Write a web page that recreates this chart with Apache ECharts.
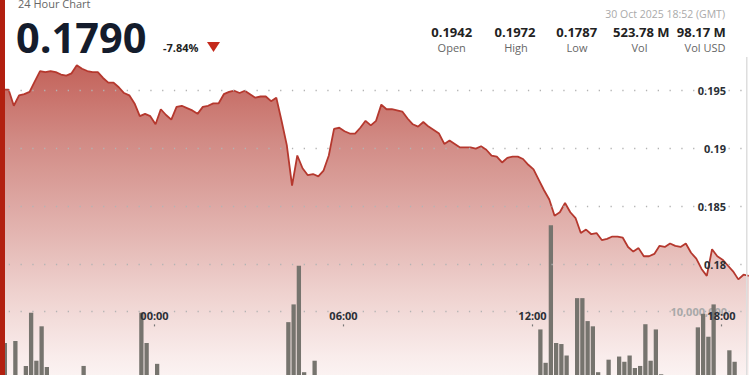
<!DOCTYPE html>
<html><head><meta charset="utf-8">
<script src="https://cdn.jsdelivr.net/npm/echarts@6/dist/echarts.min.js"></script>
<style>html,body{margin:0;padding:0;background:#fff}#c{width:750px;height:375px}</style>
</head><body><div id="c"></div>
<script>
// ---- data (10-minute steps from 29 Oct 18:52 to 30 Oct 18:52 GMT) ----
const priceValues = [
0.1942,0.1949,0.1951,0.1951,0.1937,0.1946,0.1947,0.1949,0.1958,0.1967,
0.1966,0.1967,0.1966,0.1964,0.1963,0.1965,0.1972,0.1969,0.1967,0.1966,
0.1966,0.1961,0.1957,0.1957,0.1953,0.1948,0.1946,0.1939,0.1928,0.1930,
0.1928,0.1921,0.1934,0.1929,0.1925,0.1936,0.1937,0.1935,0.1933,0.1930,
0.1936,0.1937,0.1939,0.1939,0.1947,0.1949,0.1950,0.1948,0.1950,0.1947,
0.1944,0.1945,0.1945,0.1941,0.1944,0.1924,0.1903,0.1868,0.1894,0.1883,
0.1877,0.1878,0.1876,0.1881,0.1894,0.1917,0.1918,0.1915,0.1913,0.1913,
0.1918,0.1924,0.1920,0.1924,0.1938,0.1934,0.1934,0.1933,0.1932,0.1926,
0.1921,0.1919,0.1923,0.1919,0.1916,0.1913,0.1904,0.1907,0.1904,0.1901,
0.1901,0.1901,0.1900,0.1902,0.1899,0.1894,0.1893,0.1888,0.1892,0.1893,
0.1893,0.1891,0.1886,0.1882,0.1873,0.1864,0.1856,0.1842,0.1845,0.1853,
0.1845,0.1840,0.1827,0.1830,0.1826,0.1827,0.1821,0.1822,0.1824,0.1824,
0.1823,0.1815,0.1811,0.1814,0.1807,0.1807,0.1809,0.1816,0.1815,0.1818,
0.1816,0.1815,0.1818,0.1810,0.1805,0.1796,0.1790,0.1813,0.1807,0.1804,
0.1799,0.1794,0.1787,0.1791,0.1790];
const volumeValues = [
2.1e6,3.0e6,7.0e6,2.4e6,7.2e6,3.1e6,4.8e6,9.9e6,5.3e6,8.6e6,
4.7e6,2.2e6,1.8e6,2.6e6,1.5e6,2.0e6,3.2e6,4.8e6,2.3e6,1.6e6,
1.9e6,2.8e6,1.4e6,2.0e6,2.5e6,1.7e6,2.2e6,3.0e6,9.9e6,7.0e6,
3.1e6,5.0e6,2.6e6,1.9e6,2.4e6,1.8e6,2.9e6,2.1e6,1.6e6,2.3e6,
1.5e6,2.0e6,2.7e6,1.8e6,3.3e6,2.2e6,1.9e6,2.5e6,1.7e6,2.4e6,
2.0e6,1.6e6,2.8e6,3.1e6,3.5e6,3.6e6,9.0e6,10.7e6,14.4e6,4.2e6,
3.2e6,5.3e6,3.4e6,2.6e6,3.0e6,2.2e6,1.9e6,2.5e6,1.6e6,2.1e6,
2.8e6,1.7e6,2.3e6,3.0e6,3.6e6,2.4e6,1.8e6,2.2e6,1.5e6,2.6e6,
2.0e6,1.9e6,2.7e6,1.6e6,2.3e6,2.9e6,3.2e6,2.1e6,1.8e6,2.4e6,
1.6e6,2.0e6,2.6e6,1.7e6,2.2e6,3.0e6,2.5e6,3.4e6,2.0e6,1.8e6,
2.7e6,2.3e6,3.1e6,3.6e6,8.3e6,5.1e6,18.3e6,7.0e6,6.9e6,5.8e6,
3.5e6,11.3e6,11.3e6,9.1e6,8.6e6,4.2e6,3.2e6,5.4e6,3.6e6,5.7e6,
5.2e6,5.8e6,4.6e6,4.8e6,8.8e6,5.3e6,8.3e6,4.0e6,3.3e6,2.8e6,
3.1e6,2.5e6,3.4e6,3.7e6,8.5e6,9.8e6,7.6e6,10.7e6,3.5e6,2.9e6,
6.3e6,5.2e6,3.0e6,3.6e6,2.4e6];
const headerStats = [
  {value:'0.1942', label:'Open'},
  {value:'0.1972', label:'High'},
  {value:'0.1787', label:'Low'},
  {value:'523.78 M', label:'Vol'},
  {value:'98.17 M', label:'Vol USD'}
];
const lastPrice = '0.1790';
const changePct = '-7.84%';
const dateText = '30 Oct 2025 18:52 (GMT)';
const chartTitle = '24 Hour Chart';

// hours relative to 30 Oct 00:00
const START_H = -5 - 8/60, STEP_H = 1/6, BAR_SHIFT_H = 3/60;
const priceData = priceValues.map((v,k)=>[START_H + k*STEP_H, v]);
const volumeData = volumeValues.map((v,k)=>[START_H + k*STEP_H + BAR_SHIFT_H, v]);

const FONT = '"Open Sans","Noto Sans",sans-serif';
const gridDash = {color:'#b3b3b3', width:1.3, type:[1.3,10.5], dashOffset:4.4};
const statX = [[451.7,451.7],[515,516],[576.7,577],[641.3,639.5],[701.3,705]];

const chart = echarts.init(document.getElementById('c'), null, {renderer:'svg'});
const graphic = [
  {type:'rect', z:100, shape:{x:0,y:0,width:5,height:375}, style:{fill:'#b22010'}},
  {type:'rect', z:100, shape:{x:746,y:57,width:1.5,height:318}, style:{fill:'#dedede'}},
  {type:'text', z:100, x:18, y:3, style:{text:chartTitle, fontSize:11, fontFamily:FONT, fill:'#666', align:'left', verticalAlign:'middle'}},
  {type:'text', z:100, x:16, y:37, style:{text:lastPrice, fontSize:41.5, fontWeight:'bold', fontFamily:FONT, fill:'#141c2c', align:'left', verticalAlign:'middle'}},
  {type:'text', z:100, x:163, y:47.5, style:{text:changePct, fontSize:11, fontWeight:'bold', fontFamily:FONT, fill:'#222', align:'left', verticalAlign:'middle'}},
  {type:'polygon', z:100, shape:{points:[[207,42],[220,42],[213.5,52]]}, style:{fill:'#c42a1c'}},
  {type:'text', z:100, x:725, y:13.5, style:{text:dateText, fontSize:10.5, fontFamily:FONT, fill:'#aaa', align:'right', verticalAlign:'middle'}}
];
headerStats.forEach((s,i)=>{
  graphic.push({type:'text', z:100, x:statX[i][0], y:31.5, style:{text:s.value, fontSize:13, fontWeight:'bold', fontFamily:FONT, fill:'#222', align:'center', verticalAlign:'middle'}});
  graphic.push({type:'text', z:100, x:statX[i][1], y:47.5, style:{text:s.label, fontSize:11, fontFamily:FONT, fill:'#666', align:'center', verticalAlign:'middle'}});
});

const option = {
  animation:false,
  backgroundColor:'#fff',
  grid:[
    {left:-34.5, width:787.5, top:50.2, height:272, outerBoundsMode:'none', containLabel:false},
    {left:-34.5, width:787.5, top:207.4, height:208.6, outerBoundsMode:'none', containLabel:false}
  ],
  xAxis:[
    {gridIndex:0, type:'value', min:-6, max:19, interval:6, show:false},
    {gridIndex:1, type:'value', min:-6, max:19, interval:6, position:'bottom', offset:-117, z:10,
     axisLine:{show:false}, axisTick:{show:true, length:2, lineStyle:{color:'#777', width:1.2}},
     splitLine:{show:false},
     axisLabel:{margin:11, showMinLabel:false, showMaxLabel:false, color:'#2b2f36', fontWeight:'bold', fontSize:11, fontFamily:FONT,
       formatter:v=>String(((Math.round(v)%24)+24)%24).padStart(2,'0')+':00'}}
  ],
  yAxis:[
    {gridIndex:0, type:'value', position:'right', min:0.175, max:0.1985, interval:0.005, z:10,
     axisLine:{show:false}, axisTick:{show:false},
     axisLabel:{inside:true, margin:27, showMinLabel:false, showMaxLabel:false, color:'#2b2f36', fontWeight:'bold', fontSize:11, fontFamily:FONT,
       formatter:v=>String(+v.toFixed(3))},
     splitLine:{show:true, showMinLine:false, showMaxLine:false, lineStyle:gridDash}},
    {gridIndex:1, type:'value', position:'right', min:0, max:20000000, interval:10000000, z:3,
     axisLine:{show:false}, axisTick:{show:false},
     axisLabel:{inside:true, margin:26, showMinLabel:false, showMaxLabel:false, color:'#a9a9a9', fontWeight:'bold', fontSize:11, fontFamily:FONT,
       formatter:v=>v.toLocaleString('en-US')},
     splitLine:{show:true, showMinLine:false, showMaxLine:false, lineStyle:gridDash}}
  ],
  series:[
    {type:'line', z:2, xAxisIndex:0, yAxisIndex:0, data:priceData, symbol:'none', clip:false,
     lineStyle:{color:'#b5382e', width:1.8},
     areaStyle:{origin:0.165, opacity:1, color:new echarts.graphic.LinearGradient(0,0,0,1,[
       {offset:0, color:'#c3625a'},{offset:0.2, color:'#d18a84'},{offset:0.45, color:'#e3b5b1'},
       {offset:0.62, color:'#efd3d0'},{offset:0.78, color:'#f9eceb'},{offset:0.9, color:'#fefbfb'},{offset:1, color:'#ffffff'}])}},
    {type:'bar', z:4, xAxisIndex:1, yAxisIndex:1, data:volumeData, barWidth:4.3, clip:false, itemStyle:{color:'#76746e'}}
  ],
  graphic:graphic
};
chart.setOption(option);
</script></body></html>
